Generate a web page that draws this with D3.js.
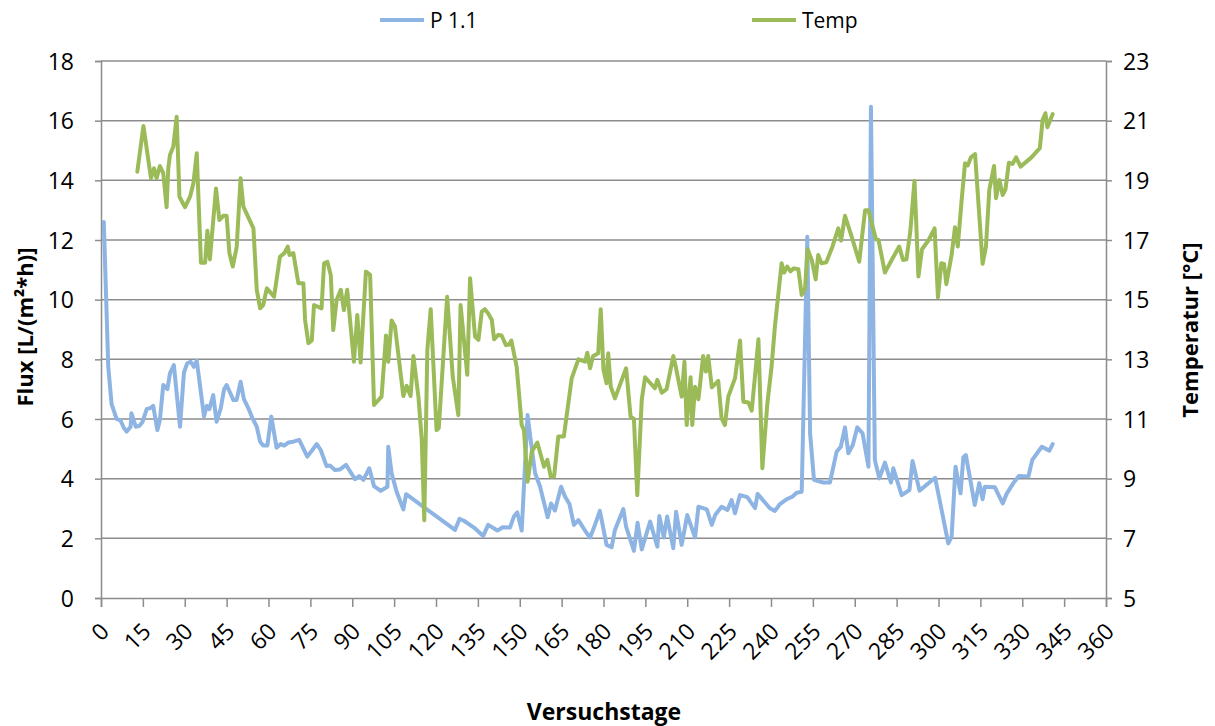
<!DOCTYPE html>
<html><head><meta charset="utf-8">
<script src="https://cdn.jsdelivr.net/npm/d3@7"></script>
<style>body{margin:0;background:#fff}svg{display:block}text{font-family:"Open Sans",Lato,sans-serif;fill:#000}</style>
</head><body>
<svg id="c" width="1215" height="726"></svg>
<script>
const fluxDays=[1,2.6,3.8,5.6,7,8.2,9.2,10.6,10.9,12.5,13.7,14.8,16.4,17.5,18.7,20.2,21.1,22.3,23.8,24.7,26.1,28.3,29.7,30.9,32.1,33.3,34.3,36.9,37.9,38.8,40.2,41.4,42.9,44.1,45,47.4,48.6,50,51.2,52.8,54.3,55.8,57,58.1,59.6,61,62.9,64.4,65.6,67.1,68.9,71,73.9,77.3,78.7,80.8,82,83.8,85.6,87.8,91,92.5,94,96.1,97.8,100.2,102.6,102.9,104.1,105.9,108.3,109.3,126.8,128.4,130,133.6,136.9,138.7,142,143.9,146.5,147.9,149.1,150.7,152.8,153.9,155.5,157.3,158.2,160,161.2,162.6,164.8,166.2,167.8,169.4,171,174,175.2,176.6,178.7,181.1,182.9,184.1,187.1,188.1,190.9,192.2,193.7,196.7,199.3,200,201.6,202.8,205,206,208,210,212.8,214,217,218.8,220,222.3,224.4,225.9,227.1,228.9,231.5,234.3,235.2,239.6,241.4,243.2,245.8,247.7,249.2,251,253,254,255.4,258.7,261.1,263.5,265,266.5,267.7,269.3,270.9,272.8,274.9,275.8,277.2,278.8,280.8,283,283.8,286.8,289.6,290.7,293.2,298.8,303.5,304.7,306.1,307.9,308.9,309.8,313,314.6,315.8,316.6,320.2,323,324.4,326.8,328.8,332.2,333.6,337,339.7,340.9];
const fluxVals=[12.6,7.75,6.5,6.0,5.95,5.7,5.58,5.74,6.19,5.74,5.77,5.89,6.34,6.36,6.44,5.63,5.97,7.14,7.0,7.53,7.81,5.74,7.55,7.87,7.92,7.75,7.96,6.08,6.44,6.33,6.8,5.91,6.36,7.0,7.14,6.64,6.64,7.25,6.67,6.36,6.02,5.74,5.24,5.11,5.11,6.08,5.04,5.16,5.11,5.21,5.24,5.3,4.74,5.16,4.96,4.42,4.44,4.29,4.31,4.46,3.98,4.09,3.96,4.35,3.75,3.59,3.73,5.07,4.18,3.56,2.97,3.48,2.28,2.65,2.59,2.36,2.08,2.45,2.26,2.37,2.36,2.73,2.87,2.26,6.13,5.30,4.18,3.73,3.38,2.71,3.17,2.93,3.73,3.4,3.15,2.45,2.61,2.17,2.03,2.36,2.92,1.78,1.70,2.28,2.98,2.39,1.58,2.52,1.63,2.56,1.72,2.75,2.03,2.73,1.67,2.89,1.78,2.78,2.03,3.06,2.97,2.45,2.78,3.06,2.95,3.28,2.84,3.45,3.38,3.01,3.49,3.01,2.92,3.15,3.32,3.40,3.53,3.56,12.11,5.52,3.96,3.87,3.87,4.9,5.07,5.72,4.85,5.13,5.72,5.52,4.40,16.47,4.63,4.01,4.54,3.87,4.35,3.45,3.62,4.59,3.6,4.03,1.83,2.06,4.40,3.51,4.72,4.79,3.12,3.85,3.31,3.73,3.71,3.17,3.49,3.85,4.09,4.07,4.63,5.07,4.94,5.16];
const tempDays=[13,15.2,17.9,19,19.9,21.1,22.3,23.5,24.1,24.7,25.9,27.1,28.1,30.1,31.9,33.1,34.3,35.8,37.3,38.1,39,41.2,42.4,43.8,45,46,47.2,48.6,50,51,54.6,55.8,57,58.1,59.4,62,64.1,65.7,66.9,67.5,68.9,70.7,72.5,73.1,74.3,75.5,76.3,79,79.9,81.1,82.3,83.2,84.4,85.9,87,88.2,90.6,91.8,93,94.9,96.4,97.8,100.5,102.1,102.9,104.1,105.3,108.3,109.5,110.9,111.9,113.7,114.9,115.8,116.9,118.1,120.2,121,124,126,128,128.8,131.2,132.2,134,135.2,136.4,137.5,138.7,140,140.8,142.3,143.5,145,146.2,147,148.9,150.7,151.5,152.8,154.3,156.3,158.7,159.9,161.1,162.3,163.8,165.8,168.6,171,173.4,174.2,175.2,176.2,178.1,179,180,181.1,181.7,182.6,184.1,188.1,189.7,190.9,192.1,193.7,194.9,198.4,199.3,200.9,202.6,205,206,208,209,209.8,211.2,211.8,212.8,214,215.7,216.7,217.5,218.8,221.1,222.3,223.5,224.7,227.1,228.9,230.1,231.9,233.1,235.5,236.9,238.7,240.2,241.4,243.8,244.7,245.8,247,248.2,249.8,251,252.2,253.1,254.6,256,256.9,258.1,259.8,262.1,264.1,265.1,266.5,268.9,271.6,273.7,274.9,277.6,278.5,280.8,282.6,285.9,287.3,288.5,289.9,291.4,292.8,294.1,296.5,298.6,299.8,301,302,302.8,304.7,305.9,306.9,308.3,309.5,310.5,311.6,313.1,315.8,317,318.2,319.9,320.6,321.8,323,324,325.2,326.5,327.8,329.4,333.3,336.3,337.3,338.3,339,340.9];
const tempVals=[19.29,20.82,19.07,19.4,19.07,19.48,19.24,18.1,19.4,19.85,20.13,21.13,18.45,18.1,18.45,18.9,19.91,16.24,16.24,17.31,16.35,18.73,17.67,17.81,17.81,16.56,16.11,16.76,19.07,18.12,17.39,15.33,14.71,14.82,15.38,15.1,16.44,16.56,16.78,16.5,16.56,15.55,15.55,14.32,13.54,13.63,14.82,14.71,16.22,16.27,15.83,13.98,14.99,15.33,14.65,15.33,12.92,14.49,12.89,15.94,15.83,11.47,11.75,13.80,12.92,14.3,14.1,11.77,12.11,11.77,13.11,11.75,10.3,7.61,13.31,14.68,10.63,10.7,15.1,12.42,11.13,14.82,12.48,15.72,13.76,13.65,14.6,14.68,14.54,14.32,13.67,13.82,13.8,13.48,13.5,13.63,12.75,10.8,10.63,8.9,9.9,10.21,9.4,9.63,9.07,9.07,10.41,10.41,12.36,13.0,12.92,13.22,12.7,13.1,13.2,14.68,12.64,12.2,13.2,12.08,11.69,12.7,11.08,11.0,8.45,11.64,12.4,12.03,12.31,11.88,12.0,13.11,12.7,11.75,12.92,10.8,12.4,10.8,12.08,11.66,13.11,12.59,13.11,12.06,12.28,11.02,10.8,11.75,12.36,13.63,11.58,11.55,11.28,13.67,9.35,11.53,12.75,14.1,16.22,15.91,16.11,15.95,16.05,16.02,15.16,15.38,16.69,16.33,15.68,16.5,16.22,16.25,16.8,17.39,16.98,17.81,17.11,16.27,18.0,18.0,17.02,17.0,15.91,16.22,16.78,16.33,16.35,17.28,18.99,15.78,16.69,17.0,17.39,15.08,16.22,16.2,15.52,16.5,17.43,16.78,18.34,19.57,19.5,19.77,19.88,16.2,16.78,18.68,19.48,18.4,19.01,18.51,18.7,19.59,19.55,19.77,19.46,19.77,20.08,21.03,21.25,20.78,21.22];
const xTicks=d3.range(0,361,15);
const yLeftTicks=d3.range(0,19,2);
const yRightTicks=d3.range(5,24,2);
const seriesNames=["P 1.1","Temp"];
const colors=["#8DB4E2","#9BBB59"];

const svg=d3.select("#c");
const L=101,R=1106,T=61,B=598;
const x=d3.scaleLinear().domain([0,360]).range([L,R]);
const yL=d3.scaleLinear().domain([0,18]).range([B,T]);
const yR=d3.scaleLinear().domain([5,23]).range([B,T]);
const grid="#8c8c8c";

svg.append("g").selectAll("line").data(yLeftTicks.filter(d=>d>0)).join("line")
 .attr("x1",L).attr("x2",R).attr("y1",d=>yL(d)).attr("y2",d=>yL(d))
 .attr("stroke",grid).attr("stroke-width",1.5);

const gl=svg.append("g").attr("transform",`translate(${L},0)`).call(d3.axisLeft(yL).tickValues(yLeftTicks).tickSize(6).tickPadding(21));
const gr=svg.append("g").attr("transform",`translate(${R},0)`).call(d3.axisRight(yR).tickValues(yRightTicks).tickSize(6).tickPadding(11));
const gb=svg.append("g").attr("transform",`translate(0,${B})`).call(d3.axisBottom(x).tickValues(xTicks).tickSize(9).tickFormat(d3.format("d")));
[gl,gr,gb].forEach(g=>{
  g.select(".domain").attr("stroke",grid).attr("stroke-width",1.5);
  g.selectAll(".tick line").attr("stroke",grid).attr("stroke-width",1.5);
  g.selectAll("text").attr("font-size",23).attr("font-family",'"Open Sans",sans-serif').attr("fill","#000");
});
gl.selectAll(".tick text").attr("dy","0.36em");
gr.selectAll(".tick text").attr("dy","0.36em");
gb.selectAll(".tick text").attr("text-anchor","end").attr("dy",0).attr("y",0)
  .attr("transform","translate(9,35) rotate(-45)");

const lf=d3.line().x((d,i)=>x(fluxDays[i])).y(d=>yL(d));
const lt=d3.line().x((d,i)=>x(tempDays[i])).y(d=>yR(d));
svg.append("path").datum(fluxVals).attr("d",lf).attr("fill","none").attr("stroke",colors[0]).attr("stroke-width",4).attr("stroke-linejoin","round").attr("stroke-linecap","round");
svg.append("path").datum(tempVals).attr("d",lt).attr("fill","none").attr("stroke",colors[1]).attr("stroke-width",4).attr("stroke-linejoin","round").attr("stroke-linecap","round");

const legX=[380,752];
seriesNames.forEach((n,i)=>{
  svg.append("line").attr("x1",legX[i]).attr("x2",legX[i]+44).attr("y1",20).attr("y2",20).attr("stroke",colors[i]).attr("stroke-width",4);
  svg.append("text").attr("x",legX[i]+50).attr("y",28).attr("font-size",21).text(n);
});

svg.append("text").attr("x",604).attr("y",720).attr("text-anchor","middle").attr("font-size",23).attr("font-weight","bold").text("Versuchstage");
svg.append("text").attr("transform","translate(33,327) rotate(-90)").attr("text-anchor","middle").attr("font-size",22).attr("font-weight","bold").text("Flux [L/(m²*h)]");
svg.append("text").attr("transform","translate(1198,330) rotate(-90)").attr("text-anchor","middle").attr("font-size",22).attr("font-weight","bold").text("Temperatur [°C]");
</script>
</body></html>
